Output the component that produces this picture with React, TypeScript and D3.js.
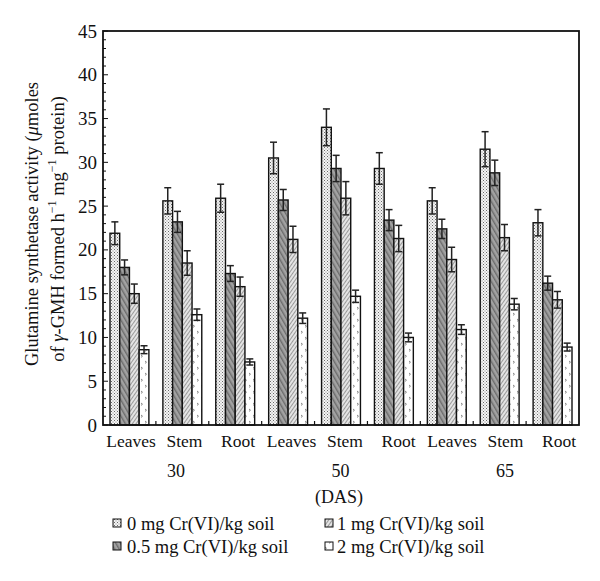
import React from "react";
import * as d3 from "d3";

const categories = ["Leaves", "Stem", "Root", "Leaves", "Stem", "Root", "Leaves", "Stem", "Root"];
const dasGroups = ["30", "50", "65"];
const seriesNames = [
  "0 mg Cr(VI)/kg soil",
  "0.5 mg Cr(VI)/kg soil",
  "1 mg Cr(VI)/kg soil",
  "2 mg Cr(VI)/kg soil",
];
const s0mg = [21.9, 25.6, 25.9, 30.5, 34.0, 29.3, 25.6, 31.5, 23.1];
const s05mg = [18.0, 23.2, 17.3, 25.7, 29.3, 23.4, 22.4, 28.8, 16.2];
const s1mg = [15.0, 18.5, 15.8, 21.2, 25.9, 21.3, 18.9, 21.4, 14.3];
const s2mg = [8.6, 12.6, 7.2, 12.2, 14.7, 10.0, 10.9, 13.8, 8.9];
const e0mg = [1.3, 1.5, 1.6, 1.8, 2.1, 1.8, 1.5, 2.0, 1.5];
const e05mg = [0.85, 1.2, 0.9, 1.2, 1.5, 1.2, 1.1, 1.45, 0.8];
const e1mg = [1.1, 1.4, 1.1, 1.5, 1.9, 1.5, 1.4, 1.5, 0.95];
const e2mg = [0.45, 0.65, 0.35, 0.6, 0.7, 0.5, 0.55, 0.65, 0.45];
const yTicks = [0, 5, 10, 15, 20, 25, 30, 35, 40, 45];

const seriesVals = [s0mg, s05mg, s1mg, s2mg];
const seriesErr = [e0mg, e05mg, e1mg, e2mg];

const FONT = "'Liberation Serif', 'DejaVu Serif', serif";

export default function App() {
  const W = 600, H = 581;
  const left = 103, right = 579, top = 31, bottom = 425;
  const y = d3.scaleLinear().domain([0, 45]).range([bottom, top]);
  const x0 = d3.scaleBand<number>().domain(d3.range(categories.length)).range([left, right]).padding(0);
  const x1 = d3.scaleBand<number>().domain([0, 1, 2, 3]).range([7, x0.bandwidth() - 7]).padding(0);
  const labelX = d3.scalePoint<number>().domain(d3.range(categories.length)).range([131, 559]);
  const dasX = d3.scalePoint<number>().domain([0, 1, 2]).range([176, 505]);
  const minor = d3.range(0, 46, 1);
  const patIds = ["p0", "p1", "p2", "p3"];
  const legendPos = [
    { bx: 113, tx: 127, ty: 530 },
    { bx: 113, tx: 127, ty: 553 },
    { bx: 325, tx: 337, ty: 530 },
    { bx: 325, tx: 337, ty: 553 },
  ];

  return (
    <svg width={W} height={H} style={{ position: "absolute", left: 0, top: 0, background: "#fff" }}>
      <defs>
        <pattern id="p0" width="3" height="3" patternUnits="userSpaceOnUse">
          <rect width="3" height="3" fill="#f4f4f4" />
          <rect x="0" y="0" width="1" height="1" fill="#6a6a6a" />
          <rect x="1.5" y="1.5" width="1" height="1" fill="#8a8a8a" />
        </pattern>
        <pattern id="p1" width="4" height="4" patternUnits="userSpaceOnUse" patternTransform="rotate(-30)">
          <rect width="4" height="4" fill="#a2a2a2" />
          <rect x="0" y="0" width="1.4" height="4" fill="#6c6c6c" />
        </pattern>
        <pattern id="p2" width="3" height="3" patternUnits="userSpaceOnUse" patternTransform="rotate(35)">
          <rect width="3" height="3" fill="#e4e4e4" />
          <rect x="0" y="0" width="1" height="3" fill="#9a9a9a" />
        </pattern>
        <pattern id="p3" width="8" height="12" patternUnits="userSpaceOnUse">
          <rect width="8" height="12" fill="#ffffff" />
          <path d="M1,1 L2.5,2.2 L1,3.4" stroke="#777" strokeWidth="0.9" fill="none" />
          <path d="M5,7 L6.5,8.2 L5,9.4" stroke="#777" strokeWidth="0.9" fill="none" />
        </pattern>
      </defs>

      {/* bars */}
      {seriesVals.map((vals, s) =>
        vals.map((v, i) => {
          const bx = (x0(i) as number) + (x1(s) as number);
          const bw = x1.bandwidth();
          return (
            <rect key={`b${s}-${i}`} x={bx} y={y(v)} width={bw} height={y(0) - y(v)}
              fill={`url(#${patIds[s]})`} stroke="#111" strokeWidth={1.4} />
          );
        })
      )}

      {/* error bars */}
      {seriesVals.map((vals, s) =>
        vals.map((v, i) => {
          const cx = (x0(i) as number) + (x1(s) as number) + x1.bandwidth() / 2;
          const e = seriesErr[s][i];
          const y1 = y(v + e), y2 = y(v - e);
          return (
            <g key={`e${s}-${i}`} stroke="#222" strokeWidth={1.5}>
              <line x1={cx} x2={cx} y1={y1} y2={y2} />
              <line x1={cx - 3.5} x2={cx + 3.5} y1={y1} y2={y1} />
              <line x1={cx - 3.5} x2={cx + 3.5} y1={y2} y2={y2} />
            </g>
          );
        })
      )}

      {/* minor / major y ticks */}
      {minor.map((t) => (
        <line key={`m${t}`} x1={left} x2={left + (t % 5 === 0 ? 5 : 3)} y1={y(t)} y2={y(t)} stroke="#111" strokeWidth={1} />
      ))}
      {/* bottom group ticks */}
      {d3.range(1, categories.length).map((i) => (
        <line key={`bt${i}`} x1={x0(i) as number} x2={x0(i) as number} y1={bottom} y2={bottom - 4} stroke="#111" strokeWidth={1.2} />
      ))}

      {/* frame */}
      <rect x={left} y={top} width={right - left} height={bottom - top} fill="none" stroke="#111" strokeWidth={1.8} />

      {/* y tick labels */}
      {yTicks.map((t) => (
        <text key={`yl${t}`} x={97} y={y(t) + 6.5} textAnchor="end" fontFamily={FONT} fontSize={19} fill="#111">{t}</text>
      ))}

      {/* category labels */}
      {categories.map((c, i) => (
        <text key={`c${i}`} x={labelX(i)} y={447} textAnchor="middle" fontFamily={FONT} fontSize={17.5} fill="#111">{c}</text>
      ))}
      {dasGroups.map((g, i) => (
        <text key={`g${i}`} x={dasX(i)} y={477} textAnchor="middle" fontFamily={FONT} fontSize={18} fill="#111">{g}</text>
      ))}
      <text x={339} y={503} textAnchor="middle" fontFamily={FONT} fontSize={18} fill="#111">(DAS)</text>

      {/* y axis title */}
      <g transform="translate(38,224) rotate(-90)">
        <text x={0} y={0} textAnchor="middle" fontFamily={FONT} fontSize={18.5} fill="#111">
          Glutamine synthetase activity (<tspan fontStyle="italic">μ</tspan>moles
        </text>
      </g>
      <g transform="translate(64,229) rotate(-90)">
        <text x={0} y={0} textAnchor="middle" fontFamily={FONT} fontSize={18.5} fill="#111">
          of <tspan fontStyle="italic">γ</tspan>-GMH formed h<tspan dy={-8} fontSize={12}>−1</tspan><tspan dy={8}> mg</tspan><tspan dy={-8} fontSize={12}>−1</tspan><tspan dy={8}> protein)</tspan>
        </text>
      </g>

      {/* legend */}
      {seriesNames.map((n, s) => {
        const p = legendPos[s];
        return (
          <g key={`l${s}`}>
            <rect x={p.bx} y={p.ty - 11} width={8} height={8} fill={`url(#${patIds[s]})`} stroke="#111" strokeWidth={1} />
            <text x={p.tx} y={p.ty} fontFamily={FONT} fontSize={18.5} fill="#111">{n}</text>
          </g>
        );
      })}
    </svg>
  );
}
